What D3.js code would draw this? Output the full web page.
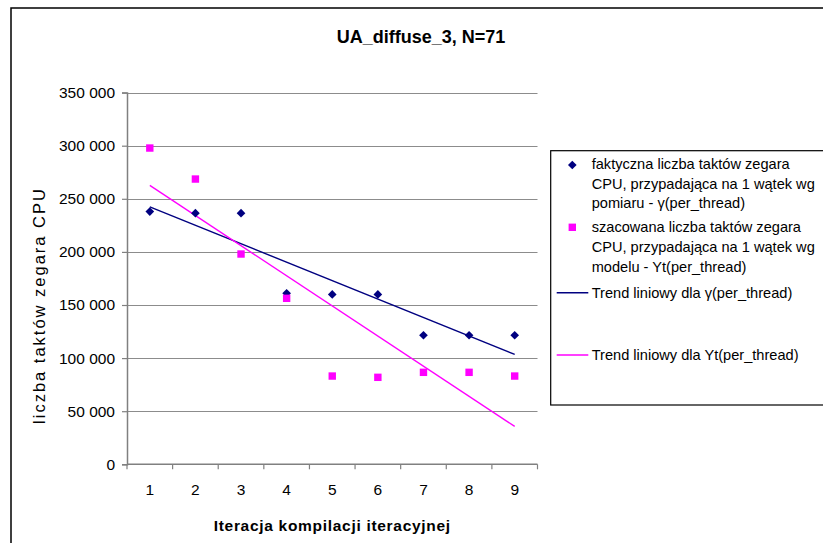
<!DOCTYPE html>
<html>
<head>
<meta charset="utf-8">
<script src="https://cdn.jsdelivr.net/npm/d3@7"></script>
<style>
  html, body { margin: 0; padding: 0; background: #fff; }
  svg { display: block; font-family: "Liberation Sans", Arial, sans-serif; }
</style>
</head>
<body>
<svg id="chart" width="823" height="543"></svg>
<script>
// Compilation iterations and CPU clock ticks per thread
const iterations = [1, 2, 3, 4, 5, 6, 7, 8, 9];
const measured = [238000, 236500, 236500, 161000, 160000, 160000, 121500, 121500, 121500];
const estimated = [297800, 268600, 198000, 156300, 83100, 81900, 86600, 86600, 83100];
const yTicks = [0, 50000, 100000, 150000, 200000, 250000, 300000, 350000];

const titleText = "UA_diffuse_3, N=71";
const xTitle = "Iteracja kompilacji iteracyjnej";
const yTitle = "liczba taktów zegara CPU";
const legendMeasured = ["faktyczna liczba taktów zegara", "CPU, przypadająca na 1 wątek wg", "pomiaru - γ(per_thread)"];
const legendEstimated = ["szacowana liczba taktów zegara", "CPU, przypadająca na 1 wątek wg", "modelu - Yt(per_thread)"];
const legendTrend1 = "Trend liniowy dla γ(per_thread)";
const legendTrend2 = "Trend liniowy dla Yt(per_thread)";

const navy = "#000080", magenta = "#FF00FF";

const svg = d3.select("#chart");

// outer chart frame
svg.append("rect").attr("x", 11).attr("y", 8).attr("width", 830).attr("height", 560)
  .attr("fill", "#fff").attr("stroke", "#000").attr("stroke-width", 1.5);

const plot = { left: 127, right: 537.5, top: 92.6, bottom: 464.3 };

const x = d3.scaleBand().domain(iterations).range([plot.left, plot.right]);
const xc = d => x(d) + x.bandwidth() / 2;
const y = d3.scaleLinear().domain([0, 350000]).range([plot.bottom, plot.top]);

const locale = d3.formatLocale({ decimal: ",", thousands: " ", grouping: [3], currency: ["", ""] });
const fmt = locale.format(",d");

// horizontal gridlines
svg.append("g").selectAll("line").data(yTicks.filter(v => v > 0)).join("line")
  .attr("x1", plot.left).attr("x2", plot.right)
  .attr("y1", d => Math.round(y(d)) + 0.5).attr("y2", d => Math.round(y(d)) + 0.5)
  .attr("stroke", "#8c8c8c").attr("stroke-width", 1.2);

// y axis
const yAxis = svg.append("g").attr("transform", `translate(${plot.left},0)`)
  .call(d3.axisLeft(y).tickValues(yTicks).tickFormat(fmt).tickSize(5).tickPadding(7));
yAxis.select(".domain").attr("stroke", "#808080").attr("stroke-width", 1.5);
yAxis.selectAll(".tick line").attr("stroke", "#808080").attr("stroke-width", 1.2);
yAxis.selectAll("text").attr("font-size", "15.5px").attr("fill", "#000")
  .attr("font-family", "Liberation Sans, Arial, sans-serif");

// x axis with ticks between categories
const xAxis = svg.append("g").attr("transform", `translate(0,${plot.bottom})`)
  .call(d3.axisBottom(x).tickSize(0).tickPadding(20));
xAxis.select(".domain").remove();
xAxis.selectAll("text").attr("font-size", "15.5px").attr("fill", "#000")
  .attr("font-family", "Liberation Sans, Arial, sans-serif");
svg.append("line").attr("x1", plot.left).attr("x2", plot.right)
  .attr("y1", plot.bottom).attr("y2", plot.bottom)
  .attr("stroke", "#808080").attr("stroke-width", 1.5);
const bounds = iterations.map(d => x(d)).concat([x(iterations[iterations.length - 1]) + x.bandwidth()]);
svg.append("g").selectAll("line").data(bounds).join("line")
  .attr("x1", d => d).attr("x2", d => d)
  .attr("y1", plot.bottom).attr("y2", plot.bottom + 5)
  .attr("stroke", "#808080").attr("stroke-width", 1.2);

// least-squares linear trend over iteration numbers
function trend(vals) {
  const n = vals.length;
  const mx = d3.mean(iterations), my = d3.mean(vals);
  let sxy = 0, sxx = 0;
  iterations.forEach((xi, i) => { sxy += (xi - mx) * (vals[i] - my); sxx += (xi - mx) * (xi - mx); });
  const b = sxy / sxx, a = my - b * mx;
  const x0 = iterations[0], x1 = iterations[n - 1];
  return [[x0, a + b * x0], [x1, a + b * x1]];
}
const line = d3.line().x(d => xc(d[0])).y(d => y(d[1]));

svg.append("path").datum(trend(measured)).attr("d", line)
  .attr("fill", "none").attr("stroke", navy).attr("stroke-width", 1.4);
svg.append("path").datum(trend(estimated)).attr("d", line)
  .attr("fill", "none").attr("stroke", magenta).attr("stroke-width", 1.4);

// markers
const diamond = d3.symbol().type(d3.symbolDiamond2).size(48);
svg.append("g").selectAll("path").data(measured).join("path")
  .attr("d", diamond)
  .attr("transform", (d, i) => `translate(${xc(iterations[i])},${y(d)})`)
  .attr("fill", navy);
svg.append("g").selectAll("rect").data(estimated).join("rect")
  .attr("x", (d, i) => xc(iterations[i]) - 3.7).attr("y", d => y(d) - 3.7)
  .attr("width", 7.4).attr("height", 7.4).attr("fill", magenta);

// titles
svg.append("text").attr("x", 421).attr("y", 42.5).attr("text-anchor", "middle")
  .attr("font-size", "18px").attr("font-weight", "bold").text(titleText);
svg.append("text").attr("x", (plot.left + plot.right) / 2).attr("y", 531)
  .attr("text-anchor", "middle").attr("font-size", "15.5px").attr("font-weight", "bold")
  .attr("letter-spacing", "0.7px").text(xTitle);
svg.append("text").attr("transform", "translate(45,305.5) rotate(-90)")
  .attr("text-anchor", "middle").attr("font-size", "16.5px")
  .attr("letter-spacing", "2px").text(yTitle);

// legend
const lg = svg.append("g");
lg.append("rect").attr("x", 550.7).attr("y", 150.7).attr("width", 300).attr("height", 254.3)
  .attr("fill", "#fff").attr("stroke", "#000").attr("stroke-width", 1.2);
const tx = 591.7;
lg.append("path").attr("d", diamond).attr("transform", "translate(572.3,165)").attr("fill", navy);
lg.append("rect").attr("x", 568.6).attr("y", 223.6).attr("width", 7.4).attr("height", 7.4).attr("fill", magenta);
const lgText = (lines, y0) => lines.forEach((t, i) =>
  lg.append("text").attr("x", tx).attr("y", y0 + i * 19.6).attr("font-size", "14.6px").text(t));
lgText(legendMeasured, 169);
lgText(legendEstimated, 232.3);
lg.append("line").attr("x1", 556.7).attr("x2", 588.3).attr("y1", 292.7).attr("y2", 292.7)
  .attr("stroke", navy).attr("stroke-width", 1.4);
lg.append("line").attr("x1", 556.7).attr("x2", 588.3).attr("y1", 355).attr("y2", 355)
  .attr("stroke", magenta).attr("stroke-width", 1.4);
lg.append("text").attr("x", tx).attr("y", 297.7).attr("font-size", "14.6px").text(legendTrend1);
lg.append("text").attr("x", tx).attr("y", 360).attr("font-size", "14.6px").text(legendTrend2);
</script>
</body>
</html>
